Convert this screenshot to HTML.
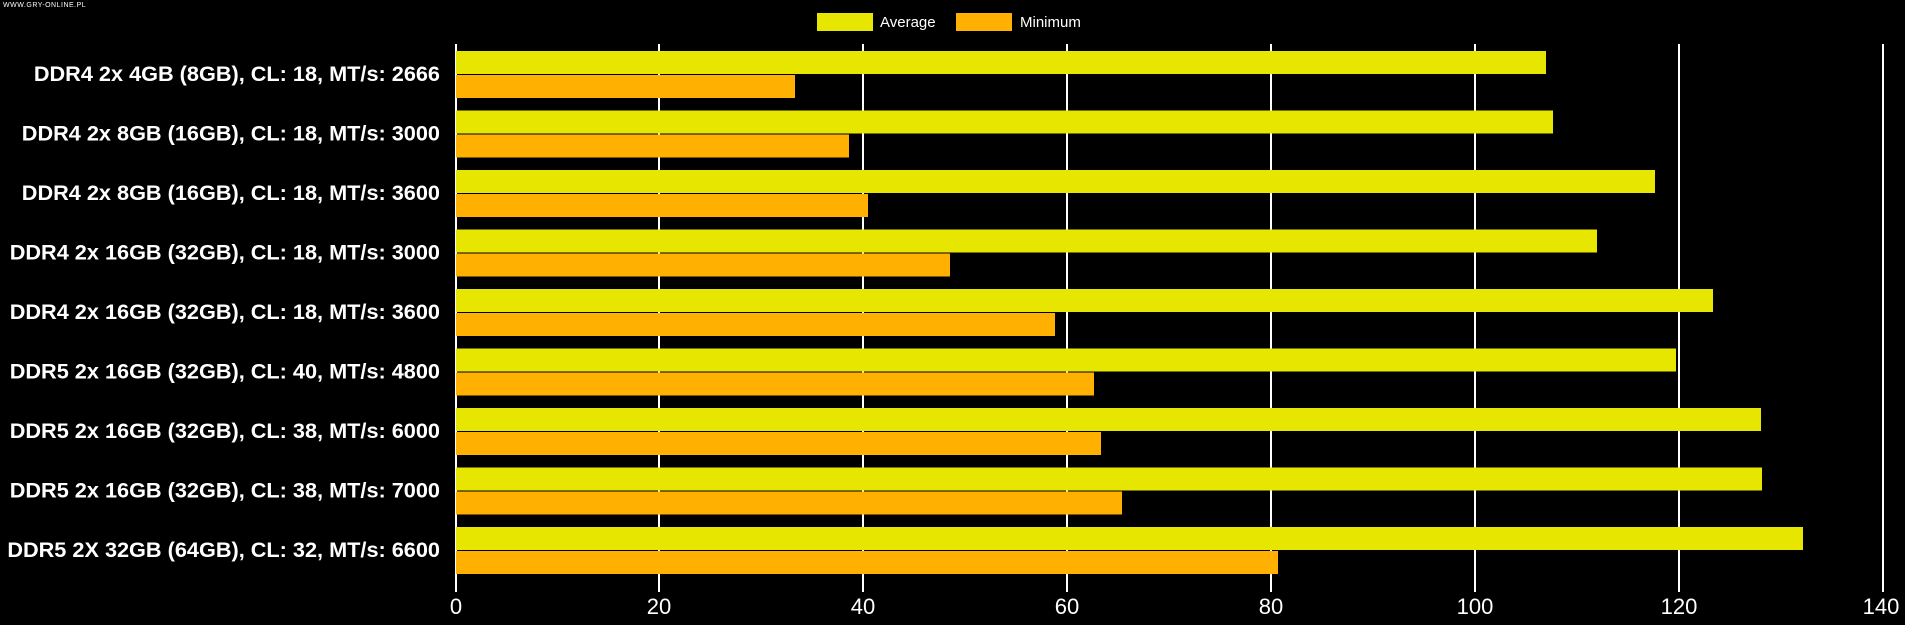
<!DOCTYPE html>
<html><head><meta charset="utf-8"><style>
html,body{margin:0;padding:0;background:#000;}
svg{display:block;}
text{font-family:"Liberation Sans",Arial,sans-serif;fill:#fff;}
</style></head><body>
<svg width="1905" height="625" viewBox="0 0 1905 625" xmlns="http://www.w3.org/2000/svg">
<rect width="1905" height="625" fill="#000"/>
<text x="3" y="7" font-size="7" fill="#ddd" style="letter-spacing:0.5px">WWW.GRY-ONLINE.PL</text>
<rect x="817" y="13" width="56" height="18" fill="#e6e600"/>
<text x="880" y="27" font-size="15">Average</text>
<rect x="956" y="13" width="56" height="18" fill="#ffb000"/>
<text x="1020" y="27" font-size="15">Minimum</text>
<g stroke="#fff" stroke-width="2">
<line x1="456" y1="44" x2="456" y2="592"/>
<line x1="659" y1="44" x2="659" y2="592"/>
<line x1="863" y1="44" x2="863" y2="592"/>
<line x1="1067" y1="44" x2="1067" y2="592"/>
<line x1="1271" y1="44" x2="1271" y2="592"/>
<line x1="1475" y1="44" x2="1475" y2="592"/>
<line x1="1679" y1="44" x2="1679" y2="592"/>
<line x1="1883" y1="44" x2="1883" y2="592"/>
</g>
<g font-size="22" text-anchor="middle">
<text x="456" y="614">0</text><text x="659" y="614">20</text><text x="863" y="614">40</text>
<text x="1067" y="614">60</text><text x="1271" y="614">80</text><text x="1475" y="614">100</text>
<text x="1679" y="614">120</text><text x="1881" y="614">140</text>
</g>
<g font-size="21.7" font-weight="bold" text-anchor="end">
<text x="440" y="81">DDR4 2x 4GB (8GB), CL: 18, MT/s: 2666</text>
<text x="440" y="140.5">DDR4 2x 8GB (16GB), CL: 18, MT/s: 3000</text>
<text x="440" y="200">DDR4 2x 8GB (16GB), CL: 18, MT/s: 3600</text>
<text x="440" y="259.5">DDR4 2x 16GB (32GB), CL: 18, MT/s: 3000</text>
<text x="440" y="319">DDR4 2x 16GB (32GB), CL: 18, MT/s: 3600</text>
<text x="440" y="378.5">DDR5 2x 16GB (32GB), CL: 40, MT/s: 4800</text>
<text x="440" y="438">DDR5 2x 16GB (32GB), CL: 38, MT/s: 6000</text>
<text x="440" y="497.5">DDR5 2x 16GB (32GB), CL: 38, MT/s: 7000</text>
<text x="440" y="557">DDR5 2X 32GB (64GB), CL: 32, MT/s: 6600</text>
</g>
<g>
<rect x="456" y="51" width="1090" height="23" fill="#e6e600"/><rect x="456" y="75" width="339" height="23" fill="#ffb000"/>
<rect x="456" y="110.5" width="1097" height="23" fill="#e6e600"/><rect x="456" y="134.5" width="393" height="23" fill="#ffb000"/>
<rect x="456" y="170" width="1199" height="23" fill="#e6e600"/><rect x="456" y="194" width="412" height="23" fill="#ffb000"/>
<rect x="456" y="229.5" width="1141" height="23" fill="#e6e600"/><rect x="456" y="253.5" width="494" height="23" fill="#ffb000"/>
<rect x="456" y="289" width="1257" height="23" fill="#e6e600"/><rect x="456" y="313" width="599" height="23" fill="#ffb000"/>
<rect x="456" y="348.5" width="1220" height="23" fill="#e6e600"/><rect x="456" y="372.5" width="638" height="23" fill="#ffb000"/>
<rect x="456" y="408" width="1305" height="23" fill="#e6e600"/><rect x="456" y="432" width="645" height="23" fill="#ffb000"/>
<rect x="456" y="467.5" width="1306" height="23" fill="#e6e600"/><rect x="456" y="491.5" width="666" height="23" fill="#ffb000"/>
<rect x="456" y="527" width="1347" height="23" fill="#e6e600"/><rect x="456" y="551" width="822" height="23" fill="#ffb000"/>
</g>
</svg>
</body></html>
